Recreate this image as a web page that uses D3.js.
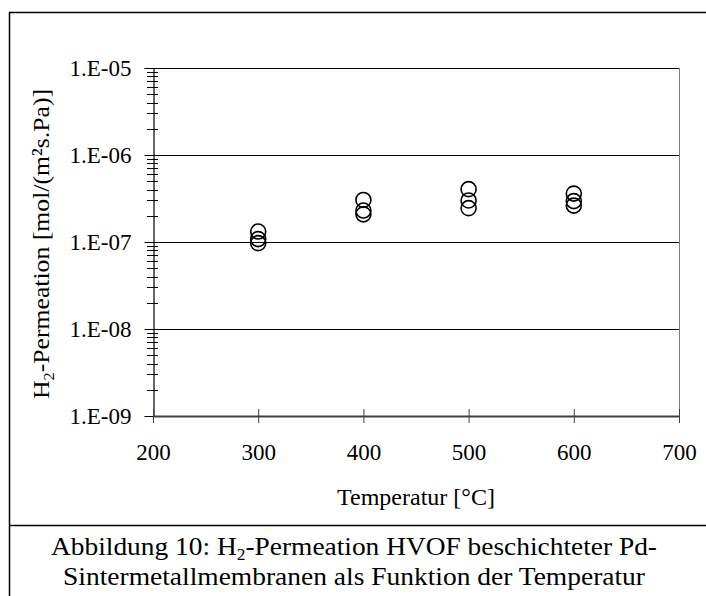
<!DOCTYPE html>
<html><head><meta charset="utf-8">
<script src="https://cdn.jsdelivr.net/npm/d3@7"></script>
<style>body{margin:0;background:#fff}svg{display:block}text{font-family:"Liberation Serif","Times New Roman",serif;fill:#000}</style>
</head><body>
<svg id="c" width="706" height="596"></svg>
<script>
const temps = [300,300,300,400,400,400,500,500,500,600,600,600];
const permeation = [1.32e-7,1.08e-7,0.97e-7,3.04e-7,2.3e-7,2.08e-7,4.05e-7,3.0e-7,2.45e-7,3.6e-7,2.95e-7,2.62e-7];
const xTicks = [200,300,400,500,600,700];
const yTicks = [1e-9,1e-8,1e-7,1e-6,1e-5];
const yTickLabels = ["1.E-09","1.E-08","1.E-07","1.E-06","1.E-05"];
const xTitle = "Temperatur [°C]";
const captionLines = ["Abbildung 10: H", "Sintermetallmembranen als Funktion der Temperatur"];

const svg = d3.select("#c");
const L=153, R=679, T=68, B=416;
const x = d3.scaleLinear().domain([200,700]).range([L,R]);
const y = d3.scaleLog().domain([1e-9,1e-5]).range([B,T]);

// outer frame
svg.append("rect").attr("x",9.5).attr("y",12.5).attr("width",720).attr("height",620)
  .attr("fill","none").attr("stroke","#000").attr("stroke-width",1.5);
svg.append("line").attr("x1",9).attr("x2",706).attr("y1",525.5).attr("y2",525.5)
  .attr("stroke","#000").attr("stroke-width",1.5);

// gridlines
svg.append("g").selectAll("line").data(yTicks.slice(1)).join("line")
  .attr("x1",L).attr("x2",R).attr("y1",d=>Math.round(y(d))+0.5).attr("y2",d=>Math.round(y(d))+0.5)
  .attr("stroke","#000").attr("stroke-width",1);
// right border
svg.append("line").attr("x1",R+0.5).attr("x2",R+0.5).attr("y1",T).attr("y2",B)
  .attr("stroke","#808080").attr("stroke-width",1);

// minor y ticks
const minor=[];
for(let e=-9;e<-5;e++) for(let m=2;m<=9;m++) minor.push(m*Math.pow(10,e));
svg.append("g").selectAll("line").data(minor).join("line")
  .attr("x1",L-6).attr("x2",L+5).attr("y1",d=>Math.round(y(d))+0.5).attr("y2",d=>Math.round(y(d))+0.5)
  .attr("stroke","#000").attr("stroke-width",1);

// y axis
const yAxis = d3.axisLeft(y).tickValues(yTicks).tickSize(0).tickFormat((d,i)=>yTickLabels[i]);
const gy = svg.append("g").attr("transform",`translate(${L+0.5},0)`).call(yAxis);
gy.select(".domain").attr("stroke","#000").attr("stroke-width",1.2);
gy.selectAll("text").attr("x",-22).attr("dy","0.32em").style("font-size","23px");
gy.selectAll(".tick").append("line").attr("x1",-9).attr("x2",5).attr("stroke","#000");

// x axis
const xAxis = d3.axisBottom(x).tickValues(xTicks).tickSize(0);
const gx = svg.append("g").attr("transform",`translate(0,${B})`).call(xAxis);
gx.select(".domain").attr("stroke","#404040").attr("stroke-width",2);
gx.selectAll("text").attr("y",37).attr("dy","0.32em").style("font-size","23px");
gx.selectAll(".tick").append("line").attr("y1",-7).attr("y2",7).attr("stroke","#404040").attr("stroke-width",1);

// points
svg.append("g").selectAll("circle").data(temps.map((t,i)=>[t,permeation[i]])).join("circle")
  .attr("cx",d=>x(d[0])).attr("cy",d=>y(d[1])).attr("r",7.5)
  .attr("fill","none").attr("stroke","#000").attr("stroke-width",1.6);

// axis titles
svg.append("text").attr("x",416).attr("y",505).attr("text-anchor","middle").style("font-size","24px").text(xTitle);
const yt = svg.append("text").attr("transform","translate(49,244) rotate(-90)").attr("text-anchor","middle")
  .style("font-size","24px").attr("textLength",310).attr("lengthAdjust","spacingAndGlyphs");
yt.append("tspan").text("H");
yt.append("tspan").text("2").attr("dy",5).style("font-size","15px");
yt.append("tspan").text("-Permeation [mol/(m²s.Pa)]").attr("dy",-5);

// caption
const c1 = svg.append("text").attr("x",354).attr("y",555).attr("text-anchor","middle").style("font-size","25px")
  .attr("textLength",606).attr("lengthAdjust","spacingAndGlyphs");
c1.append("tspan").text(captionLines[0]);
c1.append("tspan").text("2").attr("dy",5).style("font-size","16px");
c1.append("tspan").text("-Permeation HVOF beschichteter Pd-").attr("dy",-5);
svg.append("text").attr("x",354).attr("y",585).attr("text-anchor","middle").style("font-size","25px")
  .attr("textLength",582).attr("lengthAdjust","spacingAndGlyphs").text(captionLines[1]);
</script>
</body></html>
